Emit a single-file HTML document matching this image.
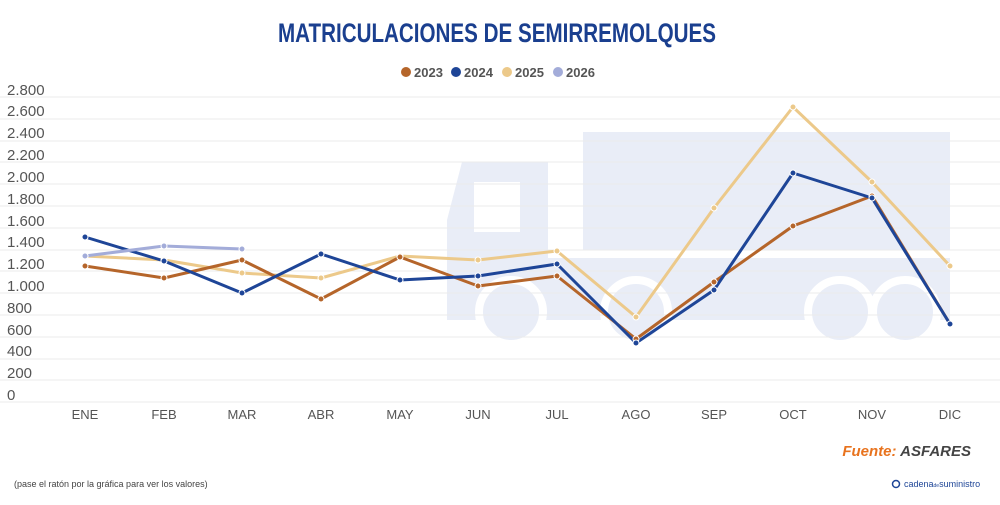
<!DOCTYPE html>
<html><head><meta charset="utf-8"><style>
body{margin:0;background:#fff;width:1000px;height:500px;overflow:hidden;font-family:"Liberation Sans",sans-serif}
</style></head><body>
<svg width="1000" height="500" xmlns="http://www.w3.org/2000/svg" font-family="Liberation Sans, sans-serif">
<text x="497" y="42" text-anchor="middle" font-size="27" font-weight="bold" fill="#1a3f8f" textLength="438" lengthAdjust="spacingAndGlyphs">MATRICULACIONES DE SEMIRREMOLQUES</text>
<g font-size="13" font-weight="bold" fill="#555">
<circle cx="406" cy="72" r="5" fill="#b5652a"/><text x="414" y="77">2023</text>
<circle cx="456" cy="72" r="5" fill="#1e4597"/><text x="464" y="77">2024</text>
<circle cx="507" cy="72" r="5" fill="#ecc98a"/><text x="515" y="77">2025</text>
<circle cx="558" cy="72" r="5" fill="#a3acd9"/><text x="566" y="77">2026</text>
</g>
<g fill="#e9edf7">
<rect x="583" y="132" width="367" height="118"/>
<path d="M462 162 L548 162 L548 320 L447 320 L447 220 Z"/>
<rect x="548" y="258" width="402" height="62"/>
</g>
<rect x="474" y="182" width="46" height="50" fill="#fff"/>
<g fill="#e9edf7" stroke="#fff" stroke-width="8">
<circle cx="511" cy="312" r="32"/><circle cx="636" cy="312" r="32"/>
<circle cx="840" cy="312" r="32"/><circle cx="905" cy="312" r="32"/>
</g>
<g stroke="#ebebeb" stroke-width="1">
<line x1="0" x2="1000" y1="97" y2="97"/><line x1="0" x2="1000" y1="119" y2="119"/><line x1="0" x2="1000" y1="141" y2="141"/><line x1="0" x2="1000" y1="162" y2="162"/><line x1="0" x2="1000" y1="184" y2="184"/><line x1="0" x2="1000" y1="206" y2="206"/><line x1="0" x2="1000" y1="228" y2="228"/><line x1="0" x2="1000" y1="250" y2="250"/><line x1="0" x2="1000" y1="271" y2="271"/><line x1="0" x2="1000" y1="293" y2="293"/><line x1="0" x2="1000" y1="315" y2="315"/><line x1="0" x2="1000" y1="337" y2="337"/><line x1="0" x2="1000" y1="359" y2="359"/><line x1="0" x2="1000" y1="380" y2="380"/><line x1="0" x2="1000" y1="402" y2="402"/>
</g>
<g font-size="15" fill="#555">
<text x="7" y="95">2.800</text><text x="7" y="116">2.600</text><text x="7" y="138">2.400</text><text x="7" y="160">2.200</text><text x="7" y="182">2.000</text><text x="7" y="204">1.800</text><text x="7" y="226">1.600</text><text x="7" y="247">1.400</text><text x="7" y="269">1.200</text><text x="7" y="291">1.000</text><text x="7" y="313">800</text><text x="7" y="335">600</text><text x="7" y="356">400</text><text x="7" y="378">200</text><text x="7" y="400">0</text>
</g>
<g font-size="13" fill="#555" text-anchor="middle">
<text x="85" y="419">ENE</text><text x="164" y="419">FEB</text><text x="242" y="419">MAR</text><text x="321" y="419">ABR</text><text x="400" y="419">MAY</text><text x="478" y="419">JUN</text><text x="557" y="419">JUL</text><text x="636" y="419">AGO</text><text x="714" y="419">SEP</text><text x="793" y="419">OCT</text><text x="872" y="419">NOV</text><text x="950" y="419">DIC</text>
</g>
<g fill="none" stroke-width="3" stroke-linejoin="round">
<polyline stroke="#ecc98a" points="85,256 164,260 242,273 321,278 400,256 478,260 557,251 636,317 714,208 793,107 872,182 950,266"/>
<polyline stroke="#b5652a" points="85,266 164,278 242,260 321,299 400,257 478,286 557,276 636,339 714,282 793,226 872,196 950,324"/>
<polyline stroke="#1e4597" points="85,237 164,261 242,293 321,254 400,280 478,276 557,264 636,343 714,290 793,173 872,198 950,324"/>
<polyline stroke="#a3acd9" points="85,256 164,246 242,249"/>
</g>
<g stroke="#fff" stroke-width="1">
<g fill="#ecc98a"><circle cx="85" cy="256" r="3"/><circle cx="164" cy="260" r="3"/><circle cx="242" cy="273" r="3"/><circle cx="321" cy="278" r="3"/><circle cx="400" cy="256" r="3"/><circle cx="478" cy="260" r="3"/><circle cx="557" cy="251" r="3"/><circle cx="636" cy="317" r="3"/><circle cx="714" cy="208" r="3"/><circle cx="793" cy="107" r="3"/><circle cx="872" cy="182" r="3"/><circle cx="950" cy="266" r="3"/></g>
<g fill="#b5652a"><circle cx="85" cy="266" r="3"/><circle cx="164" cy="278" r="3"/><circle cx="242" cy="260" r="3"/><circle cx="321" cy="299" r="3"/><circle cx="400" cy="257" r="3"/><circle cx="478" cy="286" r="3"/><circle cx="557" cy="276" r="3"/><circle cx="636" cy="339" r="3"/><circle cx="714" cy="282" r="3"/><circle cx="793" cy="226" r="3"/><circle cx="872" cy="196" r="3"/></g>
<g fill="#1e4597"><circle cx="85" cy="237" r="3"/><circle cx="164" cy="261" r="3"/><circle cx="242" cy="293" r="3"/><circle cx="321" cy="254" r="3"/><circle cx="400" cy="280" r="3"/><circle cx="478" cy="276" r="3"/><circle cx="557" cy="264" r="3"/><circle cx="636" cy="343" r="3"/><circle cx="714" cy="290" r="3"/><circle cx="793" cy="173" r="3"/><circle cx="872" cy="198" r="3"/><circle cx="950" cy="324" r="3"/></g>
<g fill="#a3acd9"><circle cx="85" cy="256" r="3"/><circle cx="164" cy="246" r="3"/><circle cx="242" cy="249" r="3"/></g>
</g>
<text x="971" y="456" text-anchor="end" font-size="15" font-style="italic" font-weight="bold"><tspan fill="#e8731e">Fuente:</tspan><tspan fill="#444"> ASFARES</tspan></text>
<text x="14" y="487" font-size="9" fill="#444">(pase el ratón por la gráfica para ver los valores)</text>
<circle cx="896" cy="484" r="3.5" fill="none" stroke="#1e4597" stroke-width="1.5"/>
<text x="904" y="487" font-size="9" fill="#1e4597">cadena<tspan font-size="5">de</tspan>suministro</text>
</svg>
</body></html>
